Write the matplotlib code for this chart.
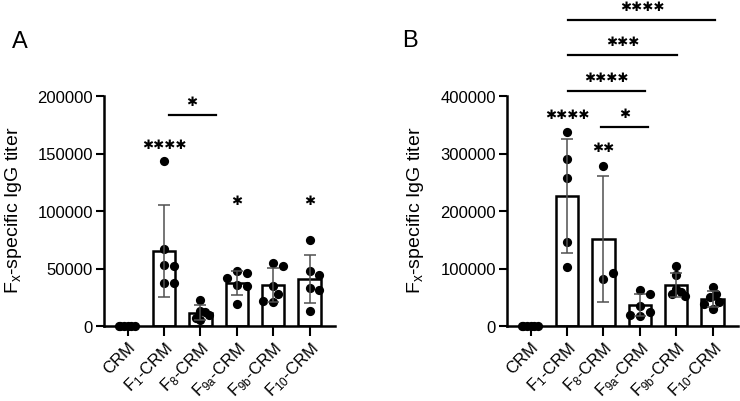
import numpy as np
import matplotlib
matplotlib.use("Agg")
import matplotlib.pyplot as plt

plt.rcParams['font.family'] = ['Liberation Sans', 'DejaVu Sans']
plt.rcParams['mathtext.default'] = 'regular'

# Grupos (iguales en ambos paneles)
grupos = ['CRM', r'F$_{1}$-CRM', r'F$_{8}$-CRM', r'F$_{9a}$-CRM', r'F$_{9b}$-CRM', r'F$_{10}$-CRM']

# Panel A: titulos individuales por grupo
datos_a = [
    [0, 0, 0, 0, 0, 0],
    [143500, 67000, 53000, 52000, 37000, 37500],
    [23000, 13000, 12000, 7000, 10000, 5000],
    [48000, 46000, 42000, 36000, 35000, 19000],
    [55000, 52000, 35000, 28000, 21000, 22000],
    [75000, 48000, 44000, 33000, 31000, 13000],
]
# Panel B
datos_b = [
    [0, 0, 0, 0, 0, 0],
    [337000, 290000, 258000, 146000, 102000],
    [278000, 82000, 93000],
    [62000, 56000, 35000, 25000, 18000, 20000],
    [104000, 88000, 64000, 60000, 56000, 52000],
    [68000, 55000, 50000, 42000, 38000, 30000],
]

# Asteriscos sobre cada barra: (grupo, altura, n asteriscos)
sig_a = [(1, 158000, 4), (3, 109000, 1), (5, 109000, 1)]
sig_b = [(1, 368000, 4), (2, 311000, 2)]
# Comparaciones entre grupos: (x1, x2, altura linea, n asteriscos)
brackets_a = [(1.13, 2.42, 183500, 1)]
brackets_b = [
    (1.94, 3.23, 346500, 1),
    (1.04, 3.13, 409000, 4),
    (1.04, 4.01, 471000, 3),
    (1.04, 5.08, 532500, 4),
]

ymax_a = 200000
ymax_b = 400000

ESTRELLA = '\u2731'


def swarm_offsets(ax, x0, valores, diam_px=9.0, limite_px=12.0):
    """Reparte los puntos en horizontal sin solape; si se pasan del ancho
    de la barra se comprimen (como hace GraphPad con valores repetidos)."""
    trans = ax.transData
    pts = trans.transform(np.column_stack([np.full(len(valores), x0), valores]))
    xc = pts[0, 0]
    colocados = []
    offs = []
    paso = diam_px * 0.55
    for (_, ypx) in pts:
        for k in [0, 1, -1, 2, -2, 3, -3, 4, -4, 5, -5]:
            xp = xc + k * paso
            if all((xp - a) ** 2 + (ypx - b) ** 2 >= (diam_px * 0.95) ** 2 for a, b in colocados):
                break
        colocados.append((xp, ypx))
        offs.append(xp - xc)
    offs = np.array(offs)
    m = np.abs(offs).max()
    if m > limite_px:
        offs = offs * (limite_px * 0.75) / m
    inv = trans.inverted()
    return [inv.transform((xc + o, 0))[0] for o in offs]


def estrellas(ax, x, y, n):
    ax.text(x, y, ESTRELLA * n, ha='center', va='center', fontsize=9.5,
            family='DejaVu Sans', clip_on=False)


def dibujar_panel(ax, datos, ymax, sig, brackets, paso_tick):
    x = np.arange(len(grupos))
    medias = [np.mean(d) for d in datos]
    sds = [np.std(d, ddof=1) for d in datos]

    ax.bar(x, medias, width=0.62, color='white', edgecolor='black', linewidth=1.8, zorder=2)
    ax.set_xlim(-0.65, 5.7)
    ax.set_ylim(0, ymax)

    for i, d in enumerate(datos):
        xs = swarm_offsets(ax, x[i], d)
        ax.scatter(xs, d, s=44, color='black', zorder=3, clip_on=False, linewidths=0)
        if sds[i] > 0:
            ax.errorbar(x[i], medias[i], yerr=sds[i], fmt='none', ecolor='#505050',
                        elinewidth=1.1, capsize=4.5, capthick=1.1, zorder=4)

    for i, h, n in sig:
        estrellas(ax, x[i], h, n)
    for x1, x2, h, n in brackets:
        ax.plot([x1, x2], [h, h], color='black', linewidth=1.6, clip_on=False)
        estrellas(ax, (x1 + x2) / 2, h + ymax * 0.058, n)

    ax.set_yticks(np.arange(0, ymax + 1, paso_tick))
    ax.set_yticklabels([f'{int(v)}' for v in np.arange(0, ymax + 1, paso_tick)])
    ax.set_xticks(x)
    ax.set_xticklabels(grupos, rotation=45, ha='right', va='top', rotation_mode='anchor')
    ax.tick_params(axis='both', labelsize=12, width=1.5, length=6, color='black', pad=2)
    ax.tick_params(axis='x', length=7)
    for lado in ('top', 'right'):
        ax.spines[lado].set_visible(False)
    for lado in ('left', 'bottom'):
        ax.spines[lado].set_linewidth(1.8)


fig = plt.figure(figsize=(7.4, 4.02), dpi=100)
ax_a = fig.add_axes([104 / 740, 75 / 402, 231 / 740, 230 / 402])
ax_b = fig.add_axes([507 / 740, 75 / 402, 231 / 740, 230 / 402])

dibujar_panel(ax_a, datos_a, ymax_a, sig_a, brackets_a, 50000)
dibujar_panel(ax_b, datos_b, ymax_b, sig_b, brackets_b, 100000)

etiqueta_y = r'F$_{x}$-specific IgG titer'
fig.text(14 / 740, 1 - 210 / 402, etiqueta_y, rotation=90, ha='center', va='center', fontsize=14)
fig.text(416 / 740, 1 - 210 / 402, etiqueta_y, rotation=90, ha='center', va='center', fontsize=14)

fig.text(20 / 740, 1 - 42 / 402, 'A', ha='center', va='center', fontsize=17)
fig.text(410 / 740, 1 - 41 / 402, 'B', ha='center', va='center', fontsize=17)

fig.savefig('out.png', dpi=100)
